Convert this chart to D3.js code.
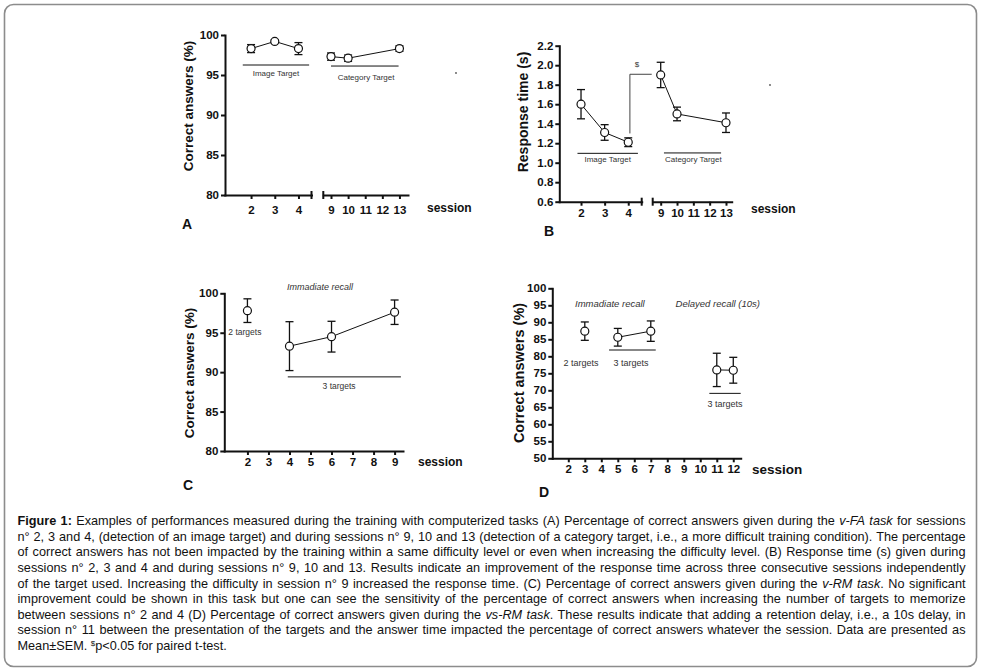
<!DOCTYPE html>
<html>
<head>
<meta charset="utf-8">
<script src="https://cdn.jsdelivr.net/npm/d3@7"></script>
<style>
body { margin: 0; background: #fff; }
svg text { font-family: 'Liberation Sans', Arial, sans-serif; }
</style>
</head>
<body>
<div id="chart"></div>
<script>
// ---- data ----
// A: v-FA task, correct answers (%)
const aSess1 = [2, 3, 4];
const aMean1 = [98.3, 99.2, 98.3];
const aSem1 = [0.5, 0.2, 0.75];
const aSess2 = [9, 10, 13];
const aMean2 = [97.3, 97.1, 98.3];
const aSem2 = [0.45, 0.4, 0.35];
const aTicksY = [80, 85, 90, 95, 100];
const aTicksX1 = [2, 3, 4];
const aTicksX2 = [9, 10, 11, 12, 13];

// B: response time (s)
const bSess1 = [2, 3, 4];
const bMean1 = [1.6, 1.31, 1.21];
const bSem1 = [0.15, 0.08, 0.045];
const bSess2 = [9, 10, 13];
const bMean2 = [1.9, 1.5, 1.41];
const bSem2 = [0.13, 0.07, 0.1];
const bTicksY = [0.6, 0.8, 1.0, 1.2, 1.4, 1.6, 1.8, 2.0, 2.2];
const bTicksX1 = [2, 3, 4];
const bTicksX2 = [9, 10, 11, 12, 13];

// C: v-RM task
const cSess2 = [2];
const cMean2 = [97.8];
const cSem2 = [1.5];
const cSess3 = [4, 6, 9];
const cMean3 = [93.3, 94.5, 97.6];
const cSem3 = [3.1, 1.95, 1.55];
const cTicksY = [80, 85, 90, 95, 100];
const cTicksX = [2, 3, 4, 5, 6, 7, 8, 9];

// D: vs-RM task
const dSessImm2 = [3];
const dMeanImm2 = [87.4];
const dSemImm2 = [2.7];
const dSessImm3 = [5, 7];
const dMeanImm3 = [85.6, 87.4];
const dSemImm3 = [2.6, 3.0];
const dSessDel3 = [11, 12];
const dMeanDel3 = [76.0, 75.9];
const dSemDel3 = [4.9, 3.8];
const dTicksY = [50, 55, 60, 65, 70, 75, 80, 85, 90, 95, 100];
const dTicksX = [2, 3, 4, 5, 6, 7, 8, 9, 10, 11, 12];

const captionLines = [
  [["Figure 1:", "b"], [" Examples of performances measured during the training with computerized tasks (A) Percentage of correct answers given during the ", ""], ["v-FA task", "i"], [" for sessions", ""]],
  [["n° 2, 3 and 4, (detection of an image target) and during sessions n° 9, 10 and 13 (detection of a category target, i.e., a more difficult training condition). The percentage", ""]],
  [["of correct answers has not been impacted by the training within a same difficulty level or even when increasing the difficulty level. (B) Response time (s) given during", ""]],
  [["sessions n° 2, 3 and 4 and during sessions n° 9, 10 and 13. Results indicate an improvement of the response time across three consecutive sessions independently", ""]],
  [["of the target used. Increasing the difficulty in session n° 9 increased the response time. (C) Percentage of correct answers given during the ", ""], ["v-RM task", "i"], [". No significant", ""]],
  [["improvement could be shown in this task but one can see the sensitivity of the percentage of correct answers when increasing the number of targets to memorize", ""]],
  [["between sessions n° 2 and 4 (D) Percentage of correct answers given during the ", ""], ["vs-RM task", "i"], [". These results indicate that adding a retention delay, i.e., a 10s delay, in", ""]],
  [["session n° 11 between the presentation of the targets and the answer time impacted the percentage of correct answers whatever the session. Data are presented as", ""]],
  [["Mean±SEM. ", ""], ["$", "sup"], ["p<0.05 for paired t-test.", ""]]
];

// ---- drawing ----
const width = 981, height = 671;
const svg = d3.select('#chart').append('svg')
  .attr('width', width).attr('height', height);

svg.append('rect')
  .attr('x', 4.5).attr('y', 4.5)
  .attr('width', 972).attr('height', 662)
  .attr('rx', 9)
  .attr('fill', 'none')
  .attr('stroke', '#8c8c8c')
  .attr('stroke-width', 1.6);

function styleAxis(ax, fs) {
  ax.attr('font-family', null).attr('font-size', null);
  ax.select('.domain').attr('stroke', '#111').attr('stroke-width', 2).attr('stroke-linecap', 'square');
  ax.selectAll('.tick line').attr('stroke', '#111').attr('stroke-width', 2);
  ax.selectAll('.tick text').attr('font-size', fs).attr('font-weight', 'bold').attr('fill', '#111');
}

function yAxis(g, y, ticks, fmt, x0, fs) {
  const ax = g.append('g').attr('transform', `translate(${x0},0)`)
    .call(d3.axisLeft(y).tickValues(ticks).tickFormat(fmt).tickSize(4).tickSizeOuter(0).tickPadding(2));
  styleAxis(ax, fs);
}

function xAxis(g, x, ticks, y0, pad, fs, breaks) {
  const ax = g.append('g').attr('transform', `translate(0,${y0})`)
    .call(d3.axisBottom(x).tickValues(ticks).tickFormat(d3.format('d')).tickSize(4).tickSizeOuter(0).tickPadding(pad));
  styleAxis(ax, fs);
  (breaks || []).forEach(b => {
    const px = x.range()[b];
    g.append('line')
      .attr('x1', px).attr('x2', px)
      .attr('y1', y0 - 4).attr('y2', y0 + 4)
      .attr('stroke', '#111').attr('stroke-width', 2);
  });
}

function series(g, x, y, sess, means, sems, connect) {
  const pts = sess.map((s, i) => ({ s: s, m: means[i], e: sems[i] }));
  if (connect) {
    g.append('path')
      .datum(pts)
      .attr('d', d3.line().x(d => x(d.s)).y(d => y(d.m)))
      .attr('fill', 'none')
      .attr('stroke', '#111')
      .attr('stroke-width', 1);
  }
  const eb = g.append('g').attr('stroke', '#111').attr('stroke-width', 1.3);
  pts.forEach(d => {
    const cx = x(d.s);
    eb.append('line').attr('x1', cx).attr('x2', cx).attr('y1', y(d.m - d.e)).attr('y2', y(d.m + d.e));
    eb.append('line').attr('x1', cx - 4).attr('x2', cx + 4).attr('y1', y(d.m + d.e)).attr('y2', y(d.m + d.e));
    eb.append('line').attr('x1', cx - 4).attr('x2', cx + 4).attr('y1', y(d.m - d.e)).attr('y2', y(d.m - d.e));
  });
  g.selectAll(null)
    .data(pts)
    .enter().append('circle')
    .attr('cx', d => x(d.s))
    .attr('cy', d => y(d.m))
    .attr('r', 4)
    .attr('fill', '#fff')
    .attr('stroke', '#111')
    .attr('stroke-width', 1.2);
}

function note(g, x, y, txt, fs, italic) {
  g.append('text')
    .attr('x', x).attr('y', y)
    .attr('text-anchor', 'middle')
    .attr('font-size', fs)
    .attr('font-style', italic ? 'italic' : 'normal')
    .attr('fill', '#333')
    .text(txt);
}

function hline(g, x1, x2, y, col) {
  g.append('line')
    .attr('x1', x1).attr('x2', x2).attr('y1', y).attr('y2', y)
    .attr('stroke', col || '#111').attr('stroke-width', 1);
}

function yLabel(g, x, y, txt, fs) {
  g.append('text')
    .attr('transform', `translate(${x},${y}) rotate(-90)`)
    .attr('text-anchor', 'middle')
    .attr('font-size', fs)
    .attr('font-weight', 'bold')
    .attr('fill', '#111')
    .text(txt);
}

function plain(g, x, y, txt, fs, anchor) {
  g.append('text')
    .attr('x', x).attr('y', y)
    .attr('text-anchor', anchor || 'start')
    .attr('font-size', fs)
    .attr('font-weight', 'bold')
    .attr('fill', '#111')
    .text(txt);
}

// ---- panel A ----
{
  const g = svg.append('g');
  const y = d3.scaleLinear().domain([80, 100]).range([195, 35]);
  const x1 = d3.scaleLinear().domain([0.9, 4.55]).range([225, 311.5]);
  const x2 = d3.scaleLinear().domain([8.55, 13.5]).range([323.3, 408]);
  yAxis(g, y, aTicksY, d3.format('d'), 225, 11.5);
  xAxis(g, x1, aTicksX1, 195, 7, 11.5, [1]);
  xAxis(g, x2, aTicksX2, 195, 7, 11.5, [0]);
  series(g, x1, y, aSess1, aMean1, aSem1, true);
  series(g, x2, y, aSess2, aMean2, aSem2, true);
  hline(g, x1(1.65), x1(4.45), y(96.25));
  note(g, x1(3.05), 76, 'Image Target', 8);
  hline(g, x2(9), x2(12.95), y(96.12));
  note(g, x2(11.05), 79.5, 'Category Target', 8);
  yLabel(g, 193, 106, 'Correct answers (%)', 13.5);
  plain(g, 427, 212, 'session', 12);
  plain(g, 182, 229, 'A', 14);
  g.append('circle').attr('cx', 456).attr('cy', 73).attr('r', 0.9).attr('fill', '#555');
}

// ---- panel B ----
{
  const g = svg.append('g');
  const y = d3.scaleLinear().domain([0.6, 2.2]).range([201.7, 45.7]);
  const x1 = d3.scaleLinear().domain([1.08, 4.57]).range([559.3, 641.7]);
  const x2 = d3.scaleLinear().domain([8.51, 13.35]).range([652.7, 731.7]);
  yAxis(g, y, bTicksY, d3.format('.1f'), 559.3, 11.5);
  xAxis(g, x1, bTicksX1, 201.7, 3, 11.5, [1]);
  xAxis(g, x2, bTicksX2, 201.7, 3, 11.5, [0]);
  series(g, x1, y, bSess1, bMean1, bSem1, true);
  series(g, x2, y, bSess2, bMean2, bSem2, true);
  hline(g, x1(1.85), x1(4.41), y(1.096));
  note(g, x1(3.13), 161.5, 'Image Target', 8);
  hline(g, x2(9.2), x2(12.7), y(1.1));
  note(g, x2(11.0), 161.5, 'Category Target', 8);
  // significance bracket between sessions 4 and 9
  const bx = x1(4.07);
  g.append('path')
    .attr('d', `M${bx},${y(1.3)}V${y(1.907)}H${x2(8.45)}`)
    .attr('fill', 'none').attr('stroke', '#444').attr('stroke-width', 1);
  note(g, bx + 7, 67, '$', 8);
  yLabel(g, 528, 112, 'Response time (s)', 14);
  plain(g, 751, 213, 'session', 12);
  plain(g, 544, 236, 'B', 14);
  g.append('circle').attr('cx', 770).attr('cy', 85).attr('r', 0.9).attr('fill', '#555');
}

// ---- panel C ----
{
  const g = svg.append('g');
  const y = d3.scaleLinear().domain([80, 100]).range([451, 293.3]);
  const x = d3.scaleLinear().domain([0.9, 9.4]).range([224.3, 403]);
  yAxis(g, y, cTicksY, d3.format('d'), 224.3, 11.5);
  xAxis(g, x, cTicksX, 451, 3, 11.5);
  series(g, x, y, cSess2, cMean2, cSem2, false);
  series(g, x, y, cSess3, cMean3, cSem3, true);
  note(g, x(1.88), 335.4, '2 targets', 8.5);
  hline(g, x(3.92), x(9.3), y(89.4));
  note(g, x(6.36), 388.5, '3 targets', 8.5);
  note(g, x(5.45), 290, 'Immadiate recall', 9, true);
  yLabel(g, 194, 373, 'Correct answers (%)', 13.5);
  plain(g, 418, 466, 'session', 12);
  plain(g, 183, 490, 'C', 14);
}

// ---- panel D ----
{
  const g = svg.append('g');
  const y = d3.scaleLinear().domain([50, 100]).range([458.3, 288.3]);
  const x = d3.scaleLinear().domain([1.03, 12.45]).range([552.3, 740.7]);
  yAxis(g, y, dTicksY, d3.format('d'), 552.3, 11.5);
  xAxis(g, x, dTicksX, 458.3, 3, 11.5);
  series(g, x, y, dSessImm2, dMeanImm2, dSemImm2, false);
  series(g, x, y, dSessImm3, dMeanImm3, dSemImm3, true);
  series(g, x, y, dSessDel3, dMeanDel3, dSemDel3, true);
  note(g, x(4.52), 307, 'Immadiate recall', 9.5, true);
  note(g, x(11.06), 307, 'Delayed recall (10s)', 9.5, true);
  note(g, x(2.77), 366, '2 targets', 9);
  note(g, x(5.8), 366, '3 targets', 9);
  hline(g, x(4.47), x(7.3), y(81.85));
  hline(g, x(10.55), x(12.45), y(69.1));
  note(g, x(11.5), 407, '3 targets', 9);
  yLabel(g, 524, 373, 'Correct answers (%)', 14.5);
  plain(g, 752, 474, 'session', 13.5);
  plain(g, 539, 497, 'D', 14);
}

// ---- caption, justified line by line ----
{
  const left = 17.5, right = 965.5, base = 525, lh = 15.63, fs = 12.7;
  const g = svg.append('g').attr('font-size', fs).attr('fill', '#111');
  captionLines.forEach((segs, li) => {
    const t = g.append('text').attr('y', base + li * lh);
    const last = li === captionLines.length - 1;
    if (last) {
      t.attr('x', left);
      segs.forEach(([txt, st]) => {
        const sp = t.append('tspan').text(txt).attr('xml:space', 'preserve');
        if (st === 'sup') sp.attr('font-size', 8).attr('dy', -4.5);
        else if (txt.startsWith('p<')) sp.attr('dy', 4.5);
      });
      t.attr('style', 'white-space: pre');
      return;
    }
    // split into words, keeping style pieces
    const words = [[]];
    segs.forEach(([txt, st]) => {
      txt.split(' ').forEach((tok, j) => {
        if (j > 0) words.push([]);
        if (tok.length) words[words.length - 1].push([tok, st]);
      });
    });
    const ws = words.filter(w => w.length);
    const firsts = [], widths = [];
    ws.forEach(w => {
      let wsum = 0, first = null;
      w.forEach(([tok, st]) => {
        const sp = t.append('tspan').text(tok);
        if (st === 'b') sp.attr('font-weight', 'bold');
        if (st === 'i') sp.attr('font-style', 'italic');
        if (!first) first = sp;
        wsum += sp.node().getComputedTextLength();
      });
      firsts.push(first);
      widths.push(wsum);
    });
    const total = d3.sum(widths);
    const gap = (right - left - total) / (ws.length - 1);
    let cx = left;
    firsts.forEach((f, i) => {
      f.attr('x', cx);
      cx += widths[i] + gap;
    });
  });
}
</script>
</body>
</html>
